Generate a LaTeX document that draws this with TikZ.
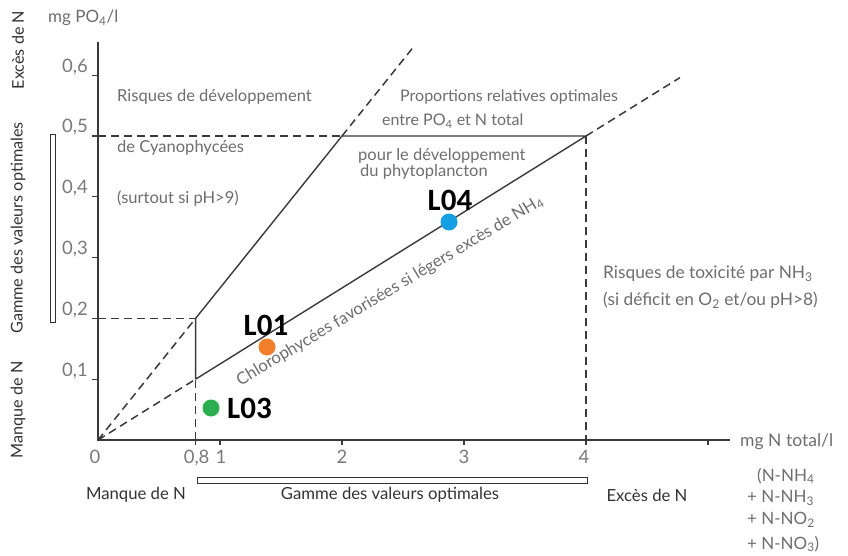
\documentclass[tikz,border=0pt]{standalone}
\usepackage{fontspec}
\setmainfont{Lato}
\newfontfamily\lblfont{Carlito}
\usetikzlibrary{calc}
\definecolor{txtgray}{HTML}{6E6E6E}
\definecolor{numgray}{HTML}{7A7A7A}
\definecolor{darktxt}{HTML}{333333}
\definecolor{linegray}{HTML}{3A3A3A}
\definecolor{ptorange}{HTML}{F37E2B}
\definecolor{ptblue}{HTML}{129FE3}
\definecolor{ptgreen}{HTML}{2DAE4E}
\newcommand{\mysub}[1]{\textsubscript{#1}}
\newcommand{\fs}[1]{\fontsize{#1}{#1}\selectfont}
\tikzset{
  solidline/.style={draw=linegray, line width=1.4pt},
  dashline/.style={draw=linegray, line width=1.5pt, dash pattern=on 8pt off 5pt},
  tickline/.style={draw=linegray, line width=1.2pt},
  gtext/.style={text=txtgray, font=\fs{16.5}, inner sep=0pt},
  dtext/.style={text=darktxt, font=\fs{16.7}, inner sep=0pt},
  numtext/.style={text=numgray, font=\fs{18.5}, inner sep=0pt},
  bar/.style={draw=darktxt, line width=1pt, fill=white},
  ptlabel/.style={text=black, font=\lblfont\bfseries\fs{31}, inner sep=0pt},
  dot/.style={circle, minimum size=17pt, inner sep=0pt}
}
\begin{document}
\begin{tikzpicture}[x=1pt, y=-1pt]
\useasboundingbox (0,0) rectangle (848,556);
\fill[white] (0,0) rectangle (848,556);

\begin{scope}[shift={(98pt,-440pt)}, x=122pt, y=608pt]
  \coordinate (O) at (0,0);
  \coordinate (ytop) at (0,0.655);
  \coordinate (xend) at (5.18,0);
  \coordinate (A) at (0.8,0.2);
  \coordinate (B) at (0.8,0.1);
  \coordinate (C) at (2,0.5);
  \coordinate (D) at (4,0.5);
  \coordinate (E) at (2.6,0.65);
  \coordinate (F) at (4.77,0.596);
  \coordinate (Y2) at (0,0.2);
  \coordinate (Y5) at (0,0.5);
  \coordinate (X08) at (0.8,0);
  \coordinate (X4) at (4,0);
  % axes
  \draw[solidline] (ytop) -- (O) -- (xend);
  % ticks
  \foreach \v in {0.1,0.2,0.3,0.4,0.5,0.6}{\draw[tickline] (0,\v) -- ++(-6pt,0);}
  \foreach \v in {0.8,1,2,3,4,5}{\draw[tickline] (\v,0) -- ++(0,-5pt);}
  % tick labels
  \foreach \v/\t in {0.1/{0,1},0.2/{0,2},0.3/{0,3},0.4/{0,4},0.5/{0,5},0.6/{0,6}}{
    \node[numtext, anchor=base east] at ($(0,\v)+(-10pt,3pt)$) {\t};}
  \node[numtext, anchor=north] (l0) at ($(0,0)+(-3pt,-10pt)$) {0};
  \node[numtext, anchor=north] (l08) at ($(0.8,0)+(1pt,-10pt)$) {0,8};
  \node[numtext, anchor=north] (l1) at ($(1,0)+(1pt,-10pt)$) {1};
  \node[numtext, anchor=north] (l2) at ($(2,0)+(0pt,-10pt)$) {2};
  \node[numtext, anchor=north] (l3) at ($(3,0)+(0pt,-10pt)$) {3};
  \node[numtext, anchor=north] (l4) at ($(4,0)+(-2pt,-10pt)$) {4};
  % dashed guides
  \draw[dashline] (O) -- (A);
  \draw[dashline] (O) -- (B);
  \draw[dashline] (Y2) -- (A);
  \draw[dashline] (Y5) -- (C);
  \draw[dashline] (X08) -- (B);
  \draw[dashline] (D) -- (X4);
  \draw[dashline] (C) -- (E);
  \draw[dashline] (D) -- (F);
  % solid lines
  \draw[solidline] (B) -- (A) -- (C) -- (D) -- (B);
\end{scope}

% axis titles
\node[gtext, font=\fs{17}, anchor=west] (ytitle) at (48,18) {mg PO\mysub{4}/l};
\node[gtext, font=\fs{17.5}, anchor=west] (xtitle) at (740,442) {mg N total/l};
\node[gtext, font=\fs{17}, anchor=west] (n1) at (757,476) {(N-NH\mysub{4}};
\node[gtext, font=\fs{17}, anchor=west] (n2) at (747,498) {+ N-NH\mysub{3}};
\node[gtext, font=\fs{17}, anchor=west] (n3) at (747,520) {+ N-NO\mysub{2}};
\node[gtext, font=\fs{17}, anchor=west] (n4) at (747,544) {+ N-NO\mysub{3})};

% zone texts
\node[gtext, anchor=west] (t1) at (117,97) {Risques de développement};
\node[gtext, anchor=west] (t2) at (117,148) {de Cyanophycées};
\node[gtext, anchor=west] (t3) at (117,199) {(surtout si pH>9)};
\node[gtext, font=\fs{16}, anchor=west] (t4) at (400,97) {Proportions relatives optimales};
\node[gtext, font=\fs{16}, anchor=west] (t5) at (382,121) {entre PO\mysub{4} et N total};
\node[gtext, anchor=west] (t6) at (358,156) {pour le développement};
\node[gtext, anchor=west] (t7) at (360,172) {du phytoplancton};
\node[gtext, font=\fs{17.3}, anchor=west] (t8) at (603,274) {Risques de toxicité par NH\mysub{3}};
\node[gtext, font=\fs{17.3}, anchor=west] (t9) at (603,300) {(si déficit en O\mysub{2} et/ou pH>8)};
\node[gtext, font=\fs{16.7}, rotate=31] (t10) at (390,291) {Chlorophycées favorisées si légers excès de NH\mysub{4}};

% bottom range labels
\draw[bar] (197,477.5) rectangle (587,483) coordinate (bbar);
\node[dtext] (b1) at (136,495) {Manque de N};
\node[dtext] (b2) at (390,495) {Gamme des valeurs optimales};
\node[dtext] (b3) at (647,495) {Excès de N};

% left range labels
\draw[bar] (50,135) rectangle (55,322) coordinate (lbar);
\node[dtext, font=\fs{16.2}, rotate=90] (s1) at (18,50) {Excès de N};
\node[dtext, font=\fs{16.2}, rotate=90] (s2) at (18,228) {Gamme des valeurs optimales};
\node[dtext, font=\fs{16.2}, rotate=90] (s3) at (18,410) {Manque de N};

% sample points
\node[dot, fill=ptorange] (p1) at (267,347) {};
\node[ptlabel] (p1l) at (266,325) {L01};
\node[dot, fill=ptblue] (p4) at (449,222) {};
\node[ptlabel] (p4l) at (450,200) {L04};
\node[dot, fill=ptgreen] (p3) at (211,408) {};
\node[ptlabel, anchor=west] (p3l) at (227,408) {L03};
\end{tikzpicture}
\end{document}
